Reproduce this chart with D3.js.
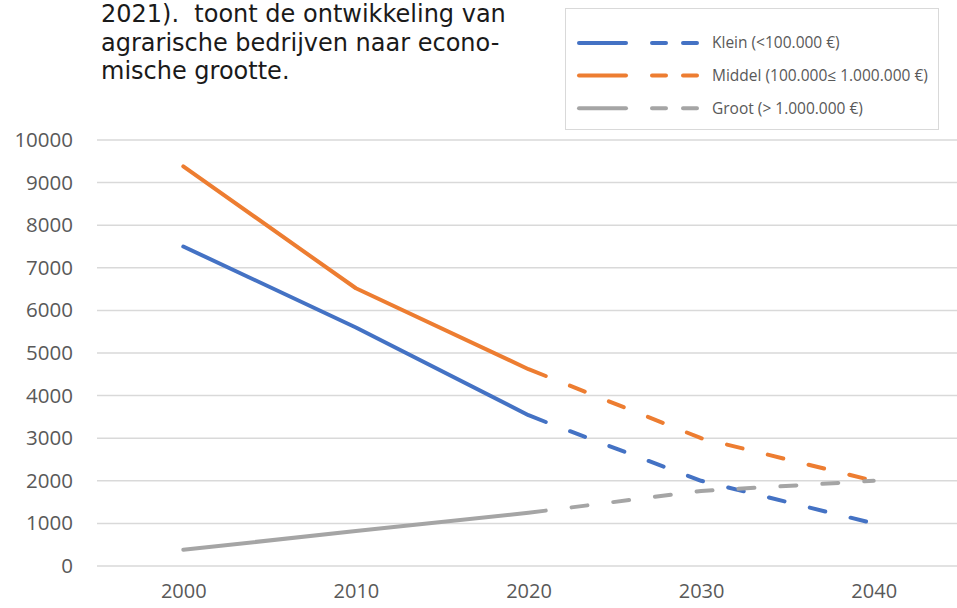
<!DOCTYPE html>
<html>
<head>
<meta charset="utf-8">
<script src="https://cdn.jsdelivr.net/npm/d3@7"></script>
<style>
html,body{margin:0;padding:0;background:#fff;overflow:hidden;}
svg{display:block;}
</style>
</head>
<body>
<svg id="chart" width="957" height="608"></svg>
<script>
// ---- data ----
const introLines = ["2021).  toont de ontwikkeling van", "agrarische bedrijven naar econo-", "mische grootte."];
const seriesNames = ["Klein (<100.000 €)", "Middel (100.000\u2264 1.000.000 €)", "Groot (> 1.000.000 €)"];
const seriesColors = ["#4472C4", "#ED7D31", "#A5A5A5"];
const histYears = [2000, 2010, 2020, 2021];
const kleinHist = [7500, 5600, 3540, 3380];
const middelHist = [9380, 6520, 4620, 4460];
const grootHist = [380, 820, 1250, 1300];
const progYears = [2021, 2030, 2040];
const kleinProg = [3380, 2000, 1000];
const middelProg = [4460, 3000, 2000];
const grootProg = [1300, 1760, 2000];
const xTicks = [2000, 2010, 2020, 2030, 2040];
const yTicks = [0, 1000, 2000, 3000, 4000, 5000, 6000, 7000, 8000, 9000, 10000];

const hist = [kleinHist, middelHist, grootHist];
const prog = [kleinProg, middelProg, grootProg];

const svg = d3.select("#chart");
const x = d3.scaleLinear().domain([1995, 2045]).range([97, 960]);
const y = d3.scaleLinear().domain([0, 10000]).range([566, 140]);

// intro text
svg.append("g").selectAll("text").data(introLines).join("text")
  .attr("x", 101).attr("y", (d, i) => 22 + i * 28.5)
  .attr("font-family", "DejaVu Sans").attr("font-size", 24)
  .attr("fill", "#1a1a1a").style("white-space", "pre")
  .attr("xml:space", "preserve")
  .text(d => d);

// gridlines
svg.append("g").selectAll("line").data(yTicks).join("line")
  .attr("x1", 97).attr("x2", 957)
  .attr("y1", d => y(d)).attr("y2", d => y(d))
  .attr("stroke", "#d9d9d9").attr("stroke-width", 1.5);

// y axis labels
const yAxis = d3.axisLeft(y).tickValues(yTicks).tickSize(0).tickPadding(0).tickFormat(d3.format("d"));
const gy = svg.append("g").attr("transform", "translate(73,0)").call(yAxis);
gy.select(".domain").remove();
gy.selectAll("text").attr("font-family", "Open Sans").attr("font-size", 20.5).attr("fill", "#595959");

// x axis labels
const xAxis = d3.axisBottom(x).tickValues(xTicks).tickSize(0).tickPadding(0).tickFormat(d3.format("d"));
const gx = svg.append("g").attr("transform", "translate(0,584)").call(xAxis);
gx.select(".domain").remove();
gx.selectAll("text").attr("font-family", "Open Sans").attr("font-size", 20).attr("fill", "#595959");

// lines
const line = d3.line().x(d => x(d[0])).y(d => y(d[1])).curve(d3.curveLinear);
hist.forEach((vals, i) => {
  svg.append("path").datum(histYears.map((yr, j) => [yr, vals[j]]))
    .attr("d", line).attr("fill", "none").attr("stroke", seriesColors[i])
    .attr("stroke-width", 4).attr("stroke-linecap", "round").attr("stroke-linejoin", "round");
});
prog.forEach((vals, i) => {
  svg.append("path").datum(progYears.map((yr, j) => [yr, vals[j]]))
    .attr("d", line).attr("fill", "none").attr("stroke", seriesColors[i])
    .attr("stroke-width", 4).attr("stroke-linecap", "round").attr("stroke-linejoin", "round")
    .attr("stroke-dasharray", "16 26").attr("stroke-dashoffset", 16);
});

// legend
const lg = svg.append("g");
lg.append("rect").attr("x", 565.5).attr("y", 8.5).attr("width", 373).attr("height", 121)
  .attr("fill", "#fff").attr("stroke", "#d9d9d9").attr("stroke-width", 1);
seriesNames.forEach((name, i) => {
  const ry = 43 + i * 32.6;
  lg.append("line").attr("x1", 579).attr("x2", 626).attr("y1", ry).attr("y2", ry)
    .attr("stroke", seriesColors[i]).attr("stroke-width", 4).attr("stroke-linecap", "round");
  lg.append("line").attr("x1", 652).attr("x2", 697).attr("y1", ry).attr("y2", ry)
    .attr("stroke", seriesColors[i]).attr("stroke-width", 4).attr("stroke-linecap", "round")
    .attr("stroke-dasharray", "14 17");
  lg.append("text").attr("x", 712).attr("y", ry).attr("dy", "0.35em")
    .attr("font-family", "Open Sans").attr("font-size", 15.5).attr("fill", "#595959")
    .text(name);
});
</script>
</body>
</html>
